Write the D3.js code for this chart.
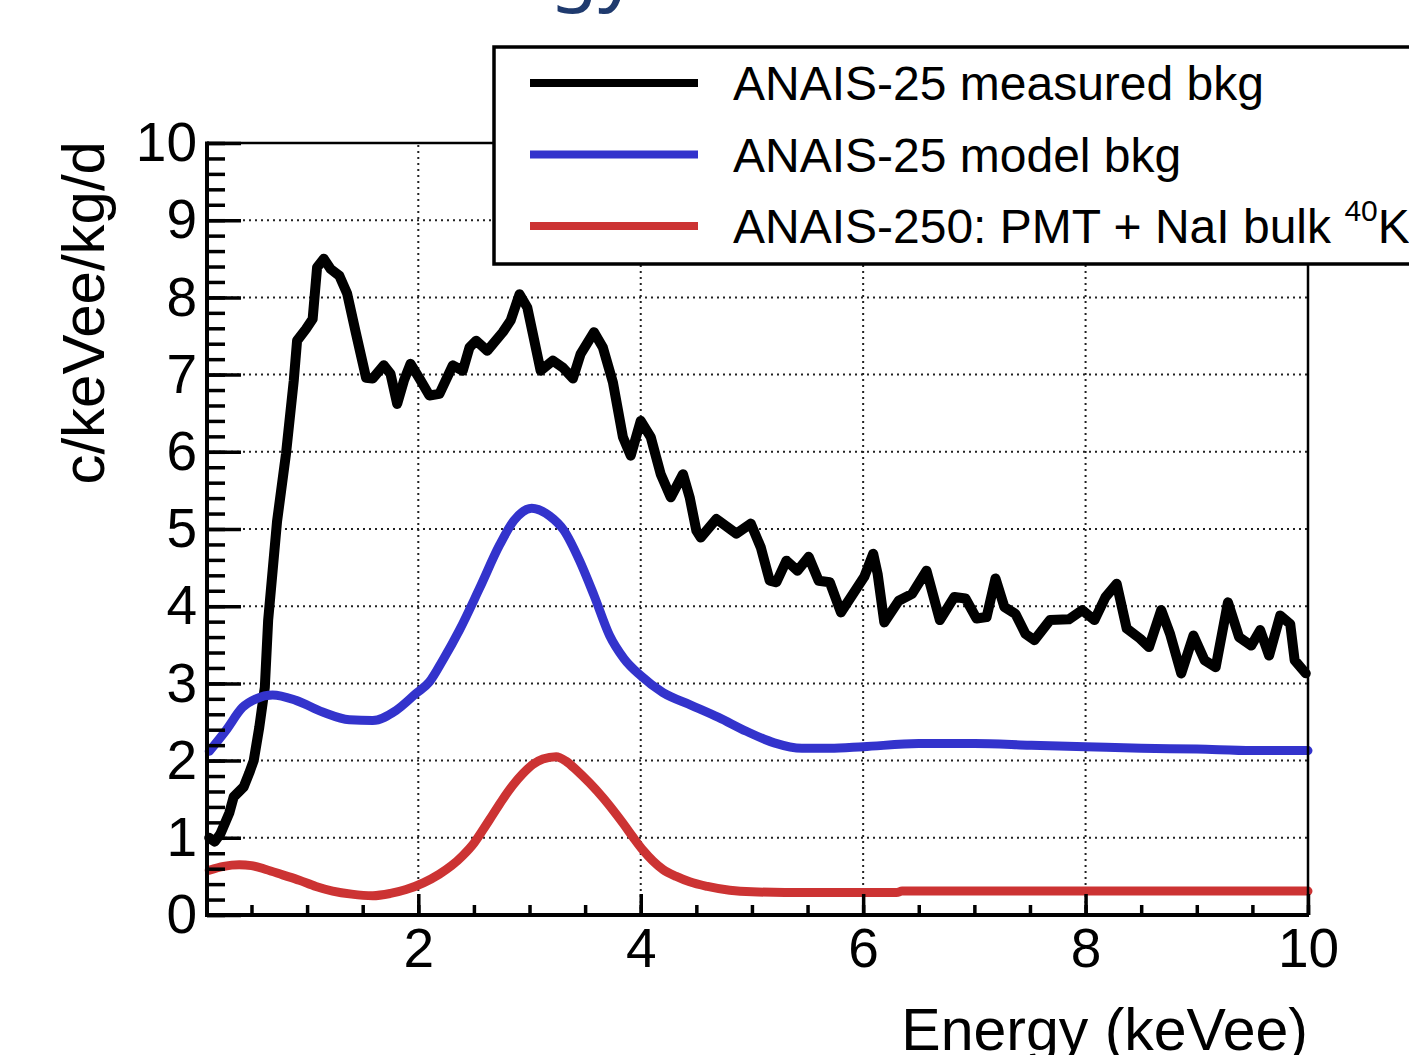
<!DOCTYPE html>
<html>
<head>
<meta charset="utf-8">
<script src="https://cdn.jsdelivr.net/npm/d3@7"></script>
<style>
  body { margin: 0; background: #fff; }
  svg { display: block; }
  text { font-family: "Liberation Sans", Arial, Helvetica, sans-serif; fill: #000; }
</style>
</head>
<body>
<svg id="chart"></svg>
<script>
// measured spectrum (black)
var energyMeasured = [0.12, 0.17, 0.22, 0.30, 0.34, 0.43, 0.48, 0.52, 0.57, 0.62, 0.65, 0.69, 0.73, 0.81, 0.88, 0.91, 0.99,
    1.05, 1.09, 1.15, 1.21, 1.29, 1.36, 1.44, 1.53, 1.59, 1.69, 1.75, 1.81, 1.87, 1.93, 2.01, 2.10, 2.19, 2.31, 2.40,
    2.46, 2.52, 2.62, 2.76, 2.83, 2.91, 2.98, 3.03, 3.10, 3.21, 3.30, 3.39, 3.46, 3.58, 3.66, 3.75, 3.84, 3.91, 4.00,
    4.09, 4.18, 4.27, 4.38, 4.44, 4.50, 4.54, 4.68, 4.86, 4.99, 5.08, 5.16, 5.22, 5.31, 5.41, 5.51, 5.60, 5.70, 5.80,
    5.91, 6.01, 6.09, 6.13, 6.19, 6.32, 6.44, 6.57, 6.69, 6.82, 6.92, 7.02, 7.11, 7.19, 7.27, 7.37, 7.46, 7.54, 7.68,
    7.85, 7.97, 8.08, 8.18, 8.28, 8.37, 8.49, 8.57, 8.68, 8.76, 8.86, 8.97, 9.07, 9.17, 9.28, 9.38, 9.49, 9.57, 9.65,
    9.75, 9.84, 9.88, 9.98];
var bkgMeasured = [1.00, 0.95, 1.05, 1.32, 1.53, 1.66, 1.84, 2.00, 2.43, 2.95, 3.82, 4.46, 5.10, 5.97, 6.92, 7.44, 7.59,
    7.72, 8.39, 8.50, 8.37, 8.28, 8.05, 7.53, 6.96, 6.95, 7.12, 7.01, 6.62, 6.92, 7.14, 6.95, 6.73, 6.75, 7.12, 7.05,
    7.35, 7.44, 7.31, 7.55, 7.70, 8.04, 7.87, 7.53, 7.05, 7.18, 7.09, 6.95, 7.27, 7.55, 7.35, 6.90, 6.19, 5.95, 6.40,
    6.19, 5.71, 5.41, 5.71, 5.41, 4.98, 4.89, 5.13, 4.94, 5.07, 4.76, 4.33, 4.31, 4.59, 4.46, 4.64, 4.33, 4.31, 3.92,
    4.16, 4.38, 4.68, 4.42, 3.79, 4.07, 4.16, 4.46, 3.82, 4.12, 4.10, 3.84, 3.86, 4.36, 3.99, 3.90, 3.64, 3.56, 3.82,
    3.83, 3.95, 3.82, 4.12, 4.29, 3.71, 3.58, 3.47, 3.95, 3.64, 3.13, 3.62, 3.30, 3.21, 4.05, 3.60, 3.49, 3.69, 3.36,
    3.88, 3.77, 3.30, 3.13];

// ANAIS-25 model (blue)
var energyModel = [0.12, 0.27, 0.42, 0.54, 0.69, 0.90, 1.14, 1.38, 1.59, 1.80, 1.98, 2.10, 2.22, 2.37, 2.55, 2.73, 2.86,
    3.02, 3.18, 3.31, 3.45, 3.58, 3.72, 3.85, 4.00, 4.20, 4.45, 4.70, 4.95, 5.20, 5.45, 5.70, 6.0, 6.5, 7.0, 7.5, 8.0,
    8.5, 9.0, 9.5, 10.0];
var bkgModel = [2.12, 2.39, 2.69, 2.80, 2.85, 2.78, 2.63, 2.53, 2.52, 2.65, 2.87, 3.02, 3.30, 3.69, 4.23, 4.79, 5.11,
    5.27, 5.17, 4.98, 4.59, 4.14, 3.62, 3.32, 3.10, 2.88, 2.72, 2.56, 2.38, 2.23, 2.16, 2.16, 2.18, 2.22, 2.22, 2.20,
    2.18, 2.16, 2.15, 2.13, 2.13];

// ANAIS-250 PMT + NaI bulk 40K (red)
var energyPMT = [0.12, 0.25, 0.39, 0.50, 0.63, 0.78, 0.93, 1.08, 1.23, 1.40, 1.59, 1.75, 1.89, 2.05, 2.19, 2.30, 2.40,
    2.50, 2.58, 2.67, 2.76, 2.85, 2.94, 3.03, 3.12, 3.24, 3.33, 3.42, 3.54, 3.66, 3.75, 3.84, 3.93, 4.02, 4.11, 4.20,
    4.32, 4.44, 4.60, 4.80, 5.00, 5.50, 6.00, 6.30, 6.35, 7.0, 8.0, 9.0, 10.0];
var bkgPMT = [0.58, 0.63, 0.65, 0.64, 0.59, 0.52, 0.45, 0.37, 0.31, 0.27, 0.25, 0.28, 0.33, 0.42, 0.53, 0.64, 0.77,
    0.93, 1.10, 1.30, 1.50, 1.68, 1.83, 1.95, 2.02, 2.05, 1.99, 1.88, 1.71, 1.52, 1.36, 1.19, 1.01, 0.84, 0.70, 0.59,
    0.50, 0.43, 0.37, 0.32, 0.30, 0.29, 0.29, 0.29, 0.31, 0.31, 0.31, 0.31, 0.31];

var xMajorTicks = [2, 4, 6, 8, 10],
    xMinorTicks = d3.range(0.5, 10.01, 0.5),
    yMajorTicks = d3.range(0, 11, 1),
    yMinorTicks = d3.range(0, 10.01, 0.2),
    xGrid = [2, 4, 6, 8],
    yGrid = [1, 2, 3, 4, 5, 6, 7, 8, 9];

var legendLabels = ["ANAIS-25 measured bkg", "ANAIS-25 model bkg", "ANAIS-250: PMT + NaI bulk "],
    legendColors = ["#000000", "#3333cc", "#cc3333"];

var svgWidth = 1409,
    svgHeight = 1055,
    plotLeft = 207,
    plotRight = 1308,
    plotTop = 143,
    plotBottom = 915;

var svg = d3.select("#chart")
    .attr("width", svgWidth)
    .attr("height", svgHeight);

svg.append("rect")
    .attr("width", svgWidth)
    .attr("height", svgHeight)
    .attr("fill", "#fff");

// piece of the slide title above the chart
svg.append("text")
    .attr("x", 550)
    .attr("y", -5)
    .style("font-family", "'Noto Sans', 'Open Sans', sans-serif")
    .style("font-size", "78px")
    .style("fill", "#1f3a6e")
    .text("gy");

var x = d3.scaleLinear().domain([0.1, 10]).range([plotLeft, plotRight]);
var y = d3.scaleLinear().domain([0, 10]).range([plotBottom, plotTop]);

// dotted grid
svg.append("g").selectAll("line")
    .data(xGrid)
    .enter()
    .append("line")
    .attr("x1", function (d) { return x(d); })
    .attr("x2", function (d) { return x(d); })
    .attr("y1", plotBottom)
    .attr("y2", plotTop)
    .attr("stroke", "#222")
    .attr("stroke-width", 2)
    .attr("stroke-dasharray", "2,4");

svg.append("g").selectAll("line")
    .data(yGrid)
    .enter()
    .append("line")
    .attr("x1", plotLeft)
    .attr("x2", plotRight)
    .attr("y1", function (d) { return y(d); })
    .attr("y2", function (d) { return y(d); })
    .attr("stroke", "#222")
    .attr("stroke-width", 2)
    .attr("stroke-dasharray", "2,4");

// curves
var series = [
    { e: energyMeasured, v: bkgMeasured, color: legendColors[0], curve: d3.curveLinear, width: 10 },
    { e: energyModel, v: bkgModel, color: legendColors[1], curve: d3.curveMonotoneX, width: 9 },
    { e: energyPMT, v: bkgPMT, color: legendColors[2], curve: d3.curveMonotoneX, width: 9 }
];

series.forEach(function (s) {
    var line = d3.line()
        .x(function (d, i) { return x(s.e[i]); })
        .y(function (d) { return y(d); })
        .curve(s.curve);
    svg.append("path")
        .datum(s.v)
        .attr("d", line)
        .attr("fill", "none")
        .attr("stroke", s.color)
        .attr("stroke-width", s.width)
        .attr("stroke-linejoin", "round")
        .attr("stroke-linecap", "round");
});

// frame
svg.append("line")
    .attr("x1", plotLeft).attr("x2", plotRight)
    .attr("y1", plotTop).attr("y2", plotTop)
    .attr("stroke", "#000").attr("stroke-width", 2.5);
svg.append("line")
    .attr("x1", plotRight).attr("x2", plotRight)
    .attr("y1", plotTop).attr("y2", plotBottom)
    .attr("stroke", "#000").attr("stroke-width", 2.5);

// axes
var yMinorAxis = d3.axisLeft(y).tickValues(yMinorTicks).tickSize(-18).tickFormat("");
var yMajorAxis = d3.axisLeft(y).tickValues(yMajorTicks).tickSize(-34).tickPadding(10).tickFormat(d3.format("d"));
var xMinorAxis = d3.axisBottom(x).tickValues(xMinorTicks).tickSize(-10).tickFormat("");
var xMajorAxis = d3.axisBottom(x).tickValues(xMajorTicks).tickSize(-21).tickPadding(13).tickFormat(d3.format("d"));

function styleAxis(g) {
    g.select(".domain").remove();
    g.selectAll(".tick line").attr("stroke", "#000").attr("stroke-width", 3.5);
    g.selectAll(".tick text")
        .style("font-family", "'Liberation Sans', Arial, sans-serif")
        .style("font-size", "55px")
        .attr("fill", "#000");
}

svg.append("g").attr("transform", "translate(" + plotLeft + ",0)").call(yMinorAxis).call(styleAxis);
svg.append("g").attr("transform", "translate(" + plotLeft + ",0)").call(yMajorAxis).call(styleAxis);
svg.append("g").attr("transform", "translate(0," + plotBottom + ")").call(xMinorAxis).call(styleAxis);
svg.append("g").attr("transform", "translate(0," + plotBottom + ")").call(xMajorAxis).call(styleAxis);

svg.append("line")
    .attr("x1", plotLeft).attr("x2", plotLeft)
    .attr("y1", plotTop - 1.5).attr("y2", plotBottom + 2)
    .attr("stroke", "#000").attr("stroke-width", 4);
svg.append("line")
    .attr("x1", plotLeft - 2).attr("x2", plotRight + 1)
    .attr("y1", plotBottom).attr("y2", plotBottom)
    .attr("stroke", "#000").attr("stroke-width", 4);

// axis titles
svg.append("text")
    .attr("transform", "translate(104," + (plotTop - 2) + ") rotate(-90)")
    .attr("text-anchor", "end")
    .style("font-size", "60px")
    .text("c/keVee/kg/d");

svg.append("text")
    .attr("x", plotRight)
    .attr("y", 1050)
    .attr("text-anchor", "end")
    .style("font-size", "59px")
    .text("Energy (keVee)");

// legend
var legend = svg.append("g");
legend.append("rect")
    .attr("x", 494)
    .attr("y", 47)
    .attr("width", 960)
    .attr("height", 217)
    .attr("fill", "#fff")
    .attr("stroke", "#000")
    .attr("stroke-width", 3.5);

var rowY = d3.scalePoint().domain(legendLabels).range([83, 226]);

legend.selectAll("line.sample")
    .data(legendLabels)
    .enter()
    .append("line")
    .attr("class", "sample")
    .attr("x1", 530)
    .attr("x2", 698)
    .attr("y1", function (d) { return rowY(d); })
    .attr("y2", function (d) { return rowY(d); })
    .attr("stroke", function (d, i) { return legendColors[i]; })
    .attr("stroke-width", 8);

var labels = legend.selectAll("text.label")
    .data(legendLabels)
    .enter()
    .append("text")
    .attr("class", "label")
    .attr("x", 733)
    .attr("y", function (d) { return rowY(d) + 17; })
    .style("font-size", "48px")
    .text(function (d) { return d; });

labels.filter(function (d, i) { return i === 2; })
    .append("tspan")
    .attr("dy", -22)
    .style("font-size", "30px")
    .text("40");
labels.filter(function (d, i) { return i === 2; })
    .append("tspan")
    .attr("dy", 22)
    .text("K");
</script>
</body>
</html>
